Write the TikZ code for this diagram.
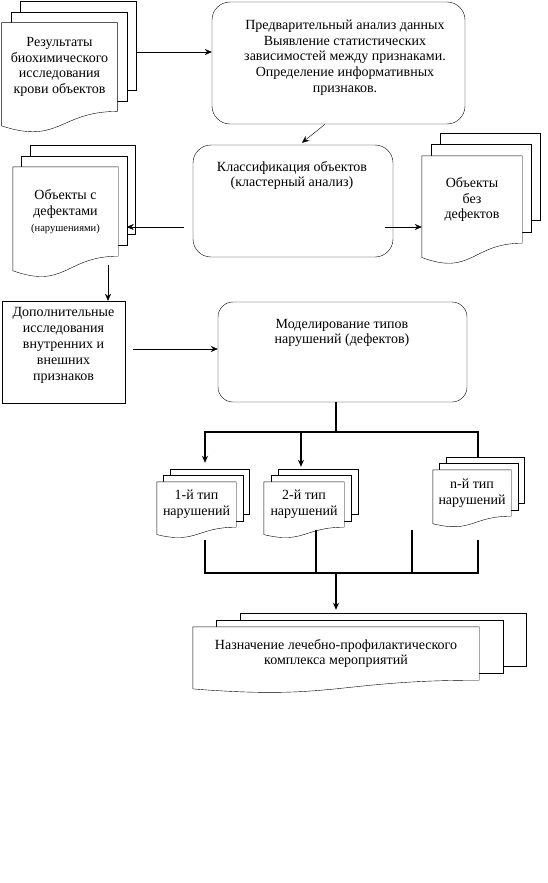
\documentclass[tikz,border=0pt]{standalone}
\usepackage{fontspec}
\setmainfont{Liberation Serif}
\usetikzlibrary{calc,backgrounds,arrows.meta}

\tikzset{
  rbox/.style={draw,rounded corners=18pt},
  sheet/.style={align=center,inner sep=2pt},
  txt/.style={align=center,inner sep=0pt},
  bus/.style={line width=2.4pt}
}

% stacked document sheets behind a node: name, dx, dy, wave depth
\newcommand\docstack[4]{%
  \begin{pgfonlayer}{background}
    \foreach \k in {2,1}
      \filldraw[fill=white] ($(#1.north west)+(\k*#2,-\k*#3)$) rectangle ($(#1.south east)+(\k*#2,-\k*#3)$);
    \filldraw[fill=white] (#1.north west) -- (#1.north east) -- (#1.south east)
      .. controls (#1.south) and ($(#1.south)+(0,2.31*#4)$) .. ($(#1.south west)+(0,#4)$) -- cycle;
  \end{pgfonlayer}}

\begin{document}
\begin{tikzpicture}[x=1pt,y=-1pt,>={Stealth[length=7pt,width=6pt]},line width=0.8pt,font=\fontsize{14}{15.8}\selectfont]
\useasboundingbox (0,0) rectangle (548,883);

% data and first analysis
\node[sheet,minimum width=115pt,minimum height=88pt] (res) at (59.5,67) {Результаты\\биохимического\\исследования\\крови объектов};
\docstack{res}{9.5}{10.5}{14.5}
\node[rbox,minimum width=253pt,minimum height=122pt] (prep) at (338.5,63) {};
\node[txt] (preptxt) at (345,57.5) {Предварительный анализ данных\\Выявление статистических\\зависимостей между признаками.\\Определение информативных\\признаков.};
\draw[->] ([shift={(19,-15)}]res.east) coordinate (r1) -- (r1 -| prep.west);

% classification
\node[rbox,minimum width=200pt,minimum height=112pt] (cls) at (293,201) {};
\node[txt] (clstxt) at (292,175.5) {Классификация объектов\\(кластерный анализ)};
\draw[->] ([shift={(-13.5,0)}]prep.south) -- ([shift={(9,-2)}]cls.north);

\node[sheet,minimum width=105pt,minimum height=89pt] (def) at (65.5,211.5) {Объекты с\\дефектами\\{\fontsize{10.5}{12}\selectfont(нарушениями)}};
\docstack{def}{8.5}{11}{14.5}
\node[sheet,minimum width=100pt,minimum height=87pt] (ok) at (472,199.5) {Объекты\\без\\дефектов};
\docstack{ok}{9}{11.5}{14.3}
\draw[->] ([shift={(-9,26)}]cls.west) coordinate (c1) -- ($(c1 -| def.east)+(8.5,0)$);
\draw[->] ([shift={(-8,26)}]cls.east) coordinate (c2) -- (c2 -| ok.west);

% extra studies and modelling
\node[draw,minimum width=123pt,minimum height=102pt] (addit) at (63.5,352) {};
\node[txt] (additxt) at (63.5,345.5) {Дополнительные\\исследования\\внутренних и\\внешних\\признаков};
\draw[->] ([shift={(42.5,9)}]def.south) coordinate (c3) -- (c3 |- addit.north);
\node[rbox,rounded corners=15pt,minimum width=249pt,minimum height=100pt] (model) at (342.5,352) {};
\node[txt] (modeltxt) at (342,333) {Моделирование типов\\нарушений (дефектов)};
\draw[->] ([shift={(8,-3)}]addit.east) coordinate (c4) -- (c4 -| model.west);

% types of defects
\node[sheet,minimum width=79pt,minimum height=45pt] (t1) at (196.5,504.5) {1-й тип\\нарушений};
\docstack{t1}{6.5}{6.5}{7.4}
\node[sheet,minimum width=80pt,minimum height=45pt] (t2) at (304,504.5) {2-й тип\\нарушений};
\docstack{t2}{7}{6.5}{7.4}
\node[sheet,minimum width=78pt,minimum height=46pt] (tn) at (472,493) {n-й тип\\нарушений};
\docstack{tn}{6.5}{6.5}{7.5}

\coordinate (busL) at (205,432);
\coordinate (busR) at (478,432);
\draw[bus] ([shift={(-6.5,0)}]model.south) coordinate (m1) -- (m1 |- busL);
\draw[bus,<-] ($(busL |- t1.north)+(0,-19)$) -- (busL) -- (busR) -- ($(busR |- tn.north)+(0,-13)$);
\draw[bus,->] ($(busL -| t2.north)+(-3,0)$) coordinate (b2) -- ($(b2 |- t2.north)+(0,-15)$);

% joining the types
\coordinate (lowL) at (205,573);
\coordinate (lowR) at (478,573);
\coordinate (u3) at (412,530);
\draw[bus] ($(lowL |- t1.south)+(0,13)$) -- (lowL) -- (lowR) -- ($(lowR |- tn.south)+(0,24)$);
\draw[bus] ($(t2.south)+(12,3)$) coordinate (u2) -- (u2 |- lowL);
\draw[bus] (u3) -- (u3 |- lowL);

% final measures
\node[sheet,minimum width=286pt,minimum height=53pt] (fin) at (336,653.5) {Назначение лечебно-профилактического\\комплекса мероприятий};
\docstack{fin}{23.5}{7}{8.7}
\draw[bus,->] (lowL -| fin.north) -- ($(fin.north)+(0,-17)$);
\end{tikzpicture}
\end{document}
